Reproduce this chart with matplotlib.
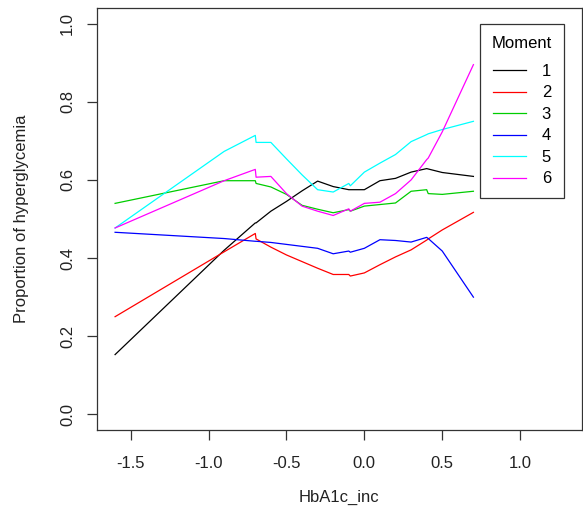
import matplotlib

matplotlib.use("Agg")
import matplotlib.pyplot as plt

plt.rcParams["font.family"] = ["Liberation Sans", "DejaVu Sans"]

# shared HbA1c_inc grid (the small repeats mark the little steps in each curve)
hba1c = [-1.6, -0.9, -0.7, -0.695, -0.6, -0.5, -0.4, -0.3, -0.2, -0.1, -0.09,
         0.0, 0.1, 0.2, 0.3, 0.4, 0.41, 0.5, 0.7]

moment_1 = [0.153, 0.420, 0.490, 0.490, 0.520, 0.545, 0.572, 0.597, 0.583, 0.575, 0.575,
            0.575, 0.598, 0.604, 0.620, 0.629, 0.628, 0.619, 0.609]
moment_2 = [0.250, 0.416, 0.463, 0.449, 0.428, 0.408, 0.391, 0.374, 0.358, 0.358, 0.354,
            0.362, 0.383, 0.403, 0.421, 0.446, 0.449, 0.472, 0.517]
moment_3 = [0.540, 0.598, 0.598, 0.591, 0.582, 0.563, 0.535, 0.525, 0.516, 0.524, 0.520,
            0.533, 0.537, 0.541, 0.571, 0.575, 0.565, 0.563, 0.571]
moment_4 = [0.466, 0.450, 0.443, 0.443, 0.440, 0.435, 0.430, 0.425, 0.411, 0.418, 0.415,
            0.425, 0.447, 0.445, 0.441, 0.453, 0.450, 0.418, 0.300]
moment_5 = [0.477, 0.673, 0.714, 0.696, 0.696, 0.654, 0.613, 0.575, 0.569, 0.591, 0.585,
            0.620, 0.643, 0.665, 0.698, 0.716, 0.718, 0.729, 0.750]
moment_6 = [0.477, 0.598, 0.627, 0.607, 0.609, 0.565, 0.533, 0.520, 0.509, 0.526, 0.520,
            0.540, 0.543, 0.565, 0.600, 0.652, 0.656, 0.723, 0.895]

moments = ["1", "2", "3", "4", "5", "6"]
series = [moment_1, moment_2, moment_3, moment_4, moment_5, moment_6]
colors = ["black", "red", "#00CD00", "blue", "cyan", "magenta"]

fig = plt.figure(figsize=(5.83, 5.23), dpi=100)
ax = fig.add_axes([96.7 / 583, 1 - 430 / 523, (582 - 96.7) / 583, (430 - 8) / 523])

for name, vals, col in zip(moments, series, colors):
    ax.plot(hba1c, vals, color=col, lw=0.9, label=name)

ax.set_xlim(-1.718, 1.397)
ax.set_ylim(-0.04, 1.04)
ax.set_xticks([-1.5, -1.0, -0.5, 0.0, 0.5, 1.0])
ax.set_xticklabels(["-1.5", "-1.0", "-0.5", "0.0", "0.5", "1.0"])
ax.set_yticks([0.0, 0.2, 0.4, 0.6, 0.8, 1.0])
ax.set_yticklabels(["0.0", "0.2", "0.4", "0.6", "0.8", "1.0"], rotation=90, va="center")

for sp in ax.spines.values():
    sp.set_color("#333333")
    sp.set_linewidth(0.9)
ax.tick_params(axis="both", direction="out", length=7.5, width=0.9, color="#333333",
               labelsize=12, labelcolor="#222222")
ax.tick_params(axis="x", pad=11)
ax.tick_params(axis="y", pad=8)

ax.set_xlabel("HbA1c_inc", fontsize=12, color="#222222", labelpad=13.5)
ax.set_ylabel("Proportion of hyperglycemia", fontsize=12, color="#222222", labelpad=22.5)

leg = ax.legend(title="Moment", loc="upper right",
                bbox_to_anchor=(564 / 583, 1 - 24 / 523), bbox_transform=fig.transFigure,
                fontsize=12, title_fontsize=12, fancybox=False, edgecolor="#333333",
                framealpha=1, handlelength=1.95, handletextpad=0.95, labelspacing=0.39,
                borderpad=0.7, borderaxespad=0)
leg.get_frame().set_linewidth(0.9)
# wider gap under the title, as in R's legend
leg._legend_box.sep = 9.5

fig.savefig("out.png", dpi=100)
